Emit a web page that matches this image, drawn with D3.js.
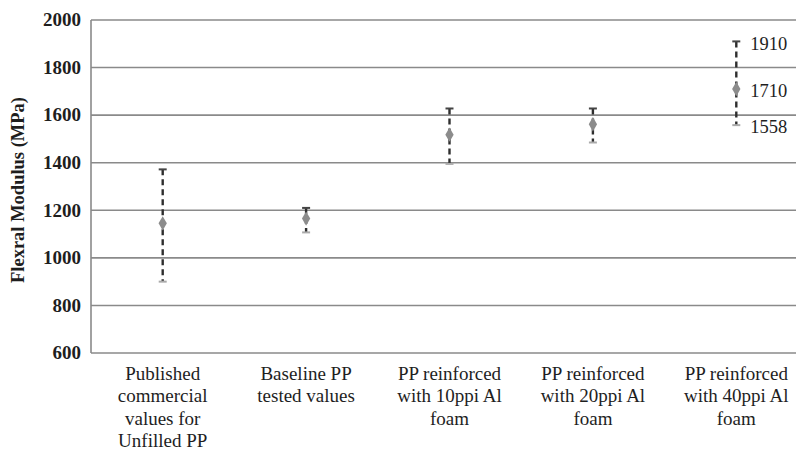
<!DOCTYPE html>
<html>
<head>
<meta charset="utf-8">
<script src="https://cdn.jsdelivr.net/npm/d3@7"></script>
<style>
  html, body { margin: 0; padding: 0; background: #fff; }
  svg { display: block; }
  text { font-family: "Liberation Serif", "Times New Roman", Times, serif; fill: #1e1e1e; }
</style>
</head>
<body>
<svg id="chart" width="796" height="451"></svg>
<script>
// Flexural modulus of PP samples: mean with min/max range
const categories = [
  ["Published", "commercial", "values for", "Unfilled PP"],
  ["Baseline PP", "tested values"],
  ["PP reinforced", "with 10ppi Al", "foam"],
  ["PP reinforced", "with 20ppi Al", "foam"],
  ["PP reinforced", "with 40ppi Al", "foam"]
];
const meanValues = [1145, 1165, 1518, 1562, 1710];
const upperValues = [1372, 1210, 1628, 1628, 1910];
const lowerValues = [900, 1107, 1395, 1485, 1558];
const yTicks = [600, 800, 1000, 1200, 1400, 1600, 1800, 2000];
const labelledIndex = 4;

const svg = d3.select("#chart");
const plotLeft = 91, plotRight = 808, plotTop = 20, plotBottom = 353;

const x = d3.scaleBand().domain(d3.range(categories.length)).range([plotLeft, plotRight]);
const y = d3.scaleLinear().domain([600, 2000]).range([plotBottom, plotTop]);

// horizontal gridlines
svg.append("g").selectAll("line").data(yTicks).join("line")
  .attr("x1", plotLeft).attr("x2", 796)
  .attr("y1", d => y(d)).attr("y2", d => y(d))
  .attr("stroke", "#8a8a8a").attr("stroke-width", 1.6);

// left axis line
svg.append("line")
  .attr("x1", plotLeft).attr("x2", plotLeft).attr("y1", y(2000)).attr("y2", y(600))
  .attr("stroke", "#8a8a8a").attr("stroke-width", 1.6);

// tick labels
svg.append("g").selectAll("text").data(yTicks).join("text")
  .attr("x", 81).attr("y", d => y(d)).attr("dy", "0.33em")
  .attr("text-anchor", "end")
  .style("font-size", "19px").style("font-weight", "bold")
  .text(d => d);

// axis title
svg.append("text")
  .attr("transform", "translate(24,190) rotate(-90)")
  .attr("text-anchor", "middle")
  .style("font-size", "18.5px").style("font-weight", "bold")
  .text("Flexral Modulus (MPa)");

// category labels
const cx = i => x(i) + x.bandwidth() / 2;
categories.forEach((lines, i) => {
  const t = svg.append("text").attr("text-anchor", "middle").style("font-size", "19px");
  lines.forEach((ln, j) => {
    t.append("tspan").attr("x", cx(i)).attr("y", 380 + j * 22.3).text(ln);
  });
});

// error ranges
const g = svg.append("g");
meanValues.forEach((m, i) => {
  const c = cx(i);
  g.append("line")
    .attr("x1", c).attr("x2", c)
    .attr("y1", y(upperValues[i])).attr("y2", y(lowerValues[i]))
    .attr("stroke", "#2e2e2e").attr("stroke-width", 2.4)
    .attr("stroke-dasharray", "6,4");
  g.append("line")
    .attr("x1", c - 4).attr("x2", c + 4)
    .attr("y1", y(upperValues[i])).attr("y2", y(upperValues[i]))
    .attr("stroke", "#444").attr("stroke-width", 2);
  g.append("line")
    .attr("x1", c - 4).attr("x2", c + 4)
    .attr("y1", y(lowerValues[i])).attr("y2", y(lowerValues[i]))
    .attr("stroke", "#aaa").attr("stroke-width", 2);
  g.append("path")
    .attr("transform", `translate(${c},${y(m)})`)
    .attr("d", d3.symbol(d3.symbolDiamond, 60)())
    .attr("fill", "#8c8c8c");
});

// value labels on the last group
const lc = cx(labelledIndex) + 14;
[upperValues[labelledIndex], meanValues[labelledIndex], lowerValues[labelledIndex]].forEach(v => {
  svg.append("text")
    .attr("x", lc).attr("y", y(v) + 2).attr("dy", "0.33em")
    .style("font-size", "18.5px")
    .text(v);
});
</script>
</body>
</html>
